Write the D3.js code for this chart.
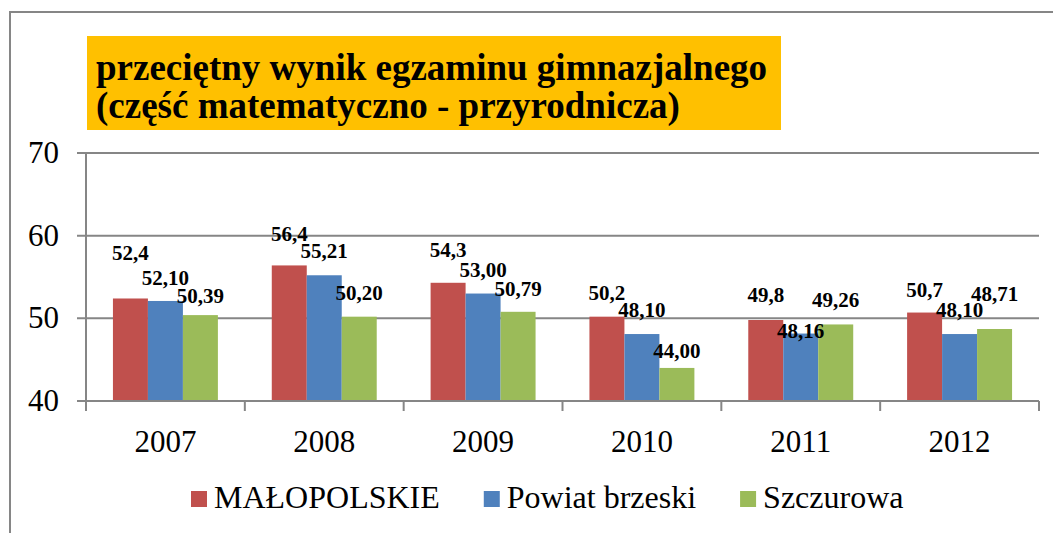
<!DOCTYPE html>
<html>
<head>
<meta charset="utf-8">
<script src="https://cdn.jsdelivr.net/npm/d3@7"></script>
<style>
  html, body { margin: 0; padding: 0; background: #fff; }
  svg { display: block; }
  svg text { font-family: "Liberation Serif", "Times New Roman", Times, serif; }
</style>
</head>
<body>
<svg id="chart" width="1053" height="533"></svg>
<script>
// Chart data
var years = ['2007', '2008', '2009', '2010', '2011', '2012'];
var seriesNames = ['MAŁOPOLSKIE', 'Powiat brzeski', 'Szczurowa'];
var malopolskie = [52.4, 56.4, 54.3, 50.2, 49.8, 50.7];
var powiatBrzeski = [52.10, 55.21, 53.00, 48.10, 48.16, 48.10];
var szczurowa = [50.39, 50.20, 50.79, 44.00, 49.26, 48.71];
var yTicks = [40, 50, 60, 70];
var titleLines = ['przeciętny wynik egzaminu gimnazjalnego', '(część matematyczno - przyrodnicza)'];

// Label formats: regional numbers with one decimal, others with two
var labelDecimals = [1, 2, 2];
var seriesColors = ['#C0504D', '#4F81BD', '#9BBB59'];
// How far above each bar top the label baseline sits (labels were hand-moved)
var labelLift = [
    [38, 24, 26, 17, 18, 16],
    [16, 17, 17, 17, -4, 17],
    [12, 17, 16, 10, 17, 28]
];

var seriesValues = [malopolskie, powiatBrzeski, szczurowa];
var axisColor = '#868686';

var svg = d3.select('#chart');

// Outer chart frame (only left and top edges are visible)
svg.append('rect')
    .attr('x', 10).attr('y', 12)
    .attr('width', 1100).attr('height', 600)
    .attr('fill', 'none')
    .attr('stroke', axisColor)
    .attr('stroke-width', 2);

// Title box
svg.append('rect')
    .attr('x', 87).attr('y', 36)
    .attr('width', 694).attr('height', 94)
    .attr('fill', '#FFC000');

svg.selectAll('.title')
    .data(titleLines)
    .enter().append('text')
    .attr('class', 'title')
    .attr('x', 96)
    .attr('y', function(d, i) { return 80 + i * 38; })
    .style('font-size', '37px')
    .style('font-weight', 'bold')
    .attr('fill', '#000')
    .text(function(d) { return d; });

// Scales
var plot = { left: 86, right: 1039, top: 153, bottom: 401 };

var x0 = d3.scaleBand()
    .domain(years)
    .range([plot.left, plot.right])
    .padding(0);

var x1 = d3.scaleBand()
    .domain(seriesNames)
    .range([0, x0.bandwidth()])
    .paddingInner(0)
    .paddingOuter(0.77);

var y = d3.scaleLinear()
    .domain([40, 70])
    .range([plot.bottom, plot.top]);

// Gridlines with left tick marks
svg.append('g')
    .selectAll('line')
    .data(yTicks)
    .enter().append('line')
    .attr('x1', plot.left - 9)
    .attr('x2', plot.right)
    .attr('y1', function(d) { return y(d); })
    .attr('y2', function(d) { return y(d); })
    .attr('stroke', axisColor)
    .attr('stroke-width', 2);

// Y axis line
svg.append('line')
    .attr('x1', plot.left).attr('x2', plot.left)
    .attr('y1', plot.top).attr('y2', plot.bottom)
    .attr('stroke', axisColor)
    .attr('stroke-width', 2);

// Y tick labels
svg.append('g')
    .selectAll('text')
    .data(yTicks)
    .enter().append('text')
    .attr('x', 59)
    .attr('y', function(d) { return y(d); })
    .attr('dy', '0.32em')
    .attr('text-anchor', 'end')
    .style('font-size', '31px')
    .attr('fill', '#000')
    .text(function(d) { return d; });

// Bars
var groups = svg.append('g')
    .selectAll('g')
    .data(years)
    .enter().append('g')
    .attr('transform', function(d) { return 'translate(' + x0(d) + ',0)'; });

groups.selectAll('rect')
    .data(function(d, i) {
        return seriesNames.map(function(s, k) {
            return { series: s, k: k, i: i, value: seriesValues[k][i] };
        });
    })
    .enter().append('rect')
    .attr('x', function(d) { return x1(d.series); })
    .attr('y', function(d) { return y(d.value); })
    .attr('width', x1.bandwidth())
    .attr('height', function(d) { return y(40) - y(d.value); })
    .attr('fill', function(d) { return seriesColors[d.k]; });

// X axis line and category ticks
svg.append('line')
    .attr('x1', plot.left).attr('x2', plot.right)
    .attr('y1', plot.bottom).attr('y2', plot.bottom)
    .attr('stroke', axisColor)
    .attr('stroke-width', 2);

var boundaries = years.map(function(d) { return x0(d); }).concat([plot.right]);
svg.append('g')
    .selectAll('line')
    .data(boundaries)
    .enter().append('line')
    .attr('x1', function(d) { return d; })
    .attr('x2', function(d) { return d; })
    .attr('y1', plot.bottom)
    .attr('y2', plot.bottom + 10)
    .attr('stroke', axisColor)
    .attr('stroke-width', 2);

// X labels
svg.append('g')
    .selectAll('text')
    .data(years)
    .enter().append('text')
    .attr('x', function(d) { return x0(d) + x0.bandwidth() / 2; })
    .attr('y', 452)
    .attr('text-anchor', 'middle')
    .style('font-size', '31px')
    .attr('fill', '#000')
    .text(function(d) { return d; });

// Value labels
groups.selectAll('text')
    .data(function(d, i) {
        return seriesNames.map(function(s, k) {
            return { series: s, k: k, i: i, value: seriesValues[k][i] };
        });
    })
    .enter().append('text')
    .attr('x', function(d) { return x1(d.series) + x1.bandwidth() / 2; })
    .attr('y', function(d) { return y(d.value) - labelLift[d.k][d.i]; })
    .attr('text-anchor', 'middle')
    .style('font-size', '21px')
    .style('font-weight', 'bold')
    .attr('fill', '#000')
    .text(function(d) { return d.value.toFixed(labelDecimals[d.k]).replace('.', ','); });

// Legend
var legend = svg.append('g');
var lx = 191;
seriesNames.forEach(function(s, k) {
    legend.append('rect')
        .attr('x', lx).attr('y', 491)
        .attr('width', 16).attr('height', 16)
        .attr('fill', seriesColors[k]);
    var t = legend.append('text')
        .attr('x', lx + 23)
        .attr('y', 508)
        .style('font-size', '32px')
        .attr('fill', '#000')
        .text(s);
    lx += 23 + t.node().getComputedTextLength() + 44;
});
</script>
</body>
</html>
